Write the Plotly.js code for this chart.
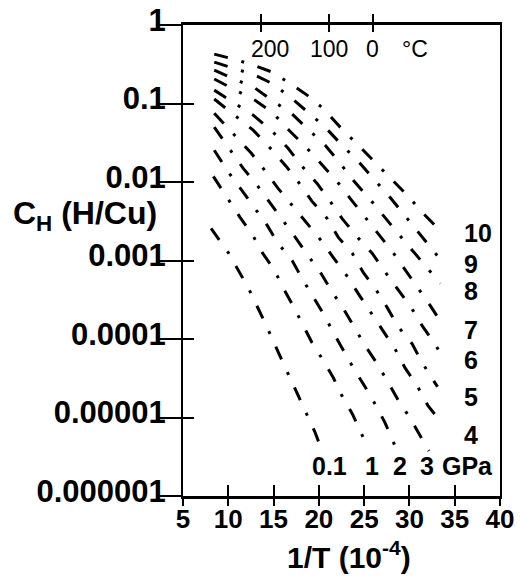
<!DOCTYPE html>
<html><head><meta charset="utf-8">
<script src="https://cdn.plot.ly/plotly-3.0.1.min.js"></script>
<style>html,body{margin:0;padding:0;background:#fff}#chart{width:526px;height:581px}</style>
</head><body><div id="chart"></div>
<script>
// ---- data (x = 1/T in 1e-4 units, y = C_H in H/Cu) ----
const pressureLabels = ['10', '9', '8', '7', '6', '5', '4', '3', '2', '1', '0.1'];

const x_10 = [8.45, 11.0, 12.75, 14.85, 16.6, 18.7, 20.45, 22.35, 24.35, 26.2, 28.1, 29.75, 31.5, 33.4];
const c_10 = [0.426, 0.357, 0.308, 0.251, 0.187, 0.128, 0.087, 0.050, 0.0294, 0.0178, 0.0105, 0.0068, 0.0040, 0.0024];

const x_9 = [8.45, 12.95, 14.95, 16.85, 18.8, 20.7, 22.55, 24.45, 26.1, 27.85, 33.7];
const c_9 = [0.337, 0.230, 0.177, 0.120, 0.0774, 0.0499, 0.0294, 0.0178, 0.0108, 0.0064, 0.00094];

const x_8 = [8.45, 12.95, 14.95, 16.95, 18.8, 20.7, 22.35, 23.8, 25.55, 27.1, 28.75, 33.4];
const c_8 = [0.266, 0.157, 0.107, 0.0753, 0.0470, 0.0294, 0.0173, 0.0105, 0.0062, 0.00375, 0.00221, 0.00051];

const x_7 = [8.45, 12.95, 14.85, 16.7, 18.6, 20.35, 22.0, 23.45, 25.1, 26.55, 28.2, 32.3, 33.6];
const c_7 = [0.205, 0.110, 0.0774, 0.0457, 0.0277, 0.0168, 0.0102, 0.0062, 0.00354, 0.00221, 0.00126, 0.000266, 0.000157];

const x_6 = [8.45, 12.75, 14.85, 16.6, 18.15, 19.8, 21.25, 22.55, 24.2, 25.9, 27.3, 28.65, 30.2, 31.4, 32.8, 33.7];
const c_6 = [0.148, 0.0710, 0.0443, 0.0269, 0.0158, 0.0096, 0.00566, 0.00344, 0.00202, 0.00123, 0.00072, 0.00044, 0.000251, 0.000148, 0.000087, 0.000058];

const x_5 = [8.45, 12.75, 14.75, 16.4, 17.85, 19.25, 20.9, 22.15, 23.7, 24.9, 26.3, 27.55, 28.75, 30.3, 31.4, 33.1];
const c_5 = [0.114, 0.0457, 0.0261, 0.0158, 0.0096, 0.00566, 0.00344, 0.00197, 0.00123, 0.000703, 0.000427, 0.000251, 0.000144, 0.000087, 0.000050, 0.0000246];

const x_4 = [8.45, 12.55, 14.1, 15.5, 17.15, 18.7, 20.25, 21.6, 23.15, 24.35, 25.75, 27.0, 28.4, 29.5, 30.85, 32.05, 33.3];
const c_4 = [0.0753, 0.0232, 0.0137, 0.0083, 0.00489, 0.00296, 0.0018, 0.00109, 0.000625, 0.000379, 0.000217, 0.000136, 0.0000752, 0.0000431, 0.0000254, 0.0000141, 0.0000093];

const x_3 = [8.45, 11.65, 13.2, 14.6, 15.95, 17.4, 18.8, 20.25, 21.45, 22.7, 24.0, 25.1, 26.45, 27.55, 28.75, 30.05, 31.15, 32.15];
const c_3 = [0.0499, 0.0149, 0.00906, 0.0055, 0.00333, 0.00197, 0.00116, 0.000682, 0.000402, 0.000244, 0.000136, 0.0000822, 0.0000484, 0.0000294, 0.0000168, 0.0000099, 0.000006, 0.00000375];

const x_2 = [8.45, 10.1, 11.5, 12.85, 14.3, 15.5, 17.05, 18.15, 19.25, 20.5, 21.6, 22.7, 23.8, 25.1, 26.2, 27.3, 28.1, 28.5];
const c_2 = [0.0254, 0.0129, 0.00782, 0.00474, 0.0028, 0.00165, 0.001, 0.000589, 0.000368, 0.00021, 0.000121, 0.000071, 0.000043, 0.0000246, 0.0000149, 0.0000086, 0.0000053, 0.0000041];

const x_1 = [8.35, 10.0, 11.3, 12.65, 13.75, 15.05, 16.05, 17.15, 18.15, 19.25, 20.5, 21.6, 22.55, 23.7, 24.55, 25.45];
const c_1 = [0.0118, 0.0060, 0.00354, 0.00215, 0.00126, 0.00077, 0.00045, 0.000266, 0.000157, 0.0000897, 0.0000528, 0.0000321, 0.0000189, 0.0000111, 0.0000068, 0.000004];

const x_01 = [8.1, 10.0, 12.2, 14.1, 15.95, 17.85, 19.6, 20.35];
const c_01 = [0.00256, 0.00126, 0.00045, 0.000157, 0.0000528, 0.0000178, 0.0000064, 0.00000375];

const xTickVals = [5, 10, 15, 20, 25, 30, 35, 40];
const yTickVals = [1e-6, 1e-5, 1e-4, 1e-3, 1e-2, 1e-1, 1];
const yTickText = ['0.000001', '0.00001', '0.0001', '0.001', '0.01', '0.1', '1'];
const celsiusTickVals = [13.64, 21.14, 26.0];
const celsiusLabels = ['200', '100', '0', '°C'];

// ---- build ----
const seriesX = [x_10, x_9, x_8, x_7, x_6, x_5, x_4, x_3, x_2, x_1, x_01];
const seriesY = [c_10, c_9, c_8, c_7, c_6, c_5, c_4, c_3, c_2, c_1, c_01];
// every axis shares identical fixed ranges; some curves are attached to the overlay
// axes so that those axes (which carry the second half of the crossing ticks) get drawn
const axisOf = {7: ['x', 'y2'], 8: ['x4', 'y'], 9: ['x3', 'y'], 10: ['x2', 'y']};
const FONT = 'Liberation Sans, Arial, Helvetica, sans-serif';

const traces = seriesX.map((xs, i) => ({
  type: 'scatter', mode: 'lines', x: xs, y: seriesY[i], name: pressureLabels[i] + ' GPa',
  xaxis: (axisOf[i] || ['x'])[0], yaxis: (axisOf[i] || ['x', 'y'])[1],
  line: {color: '#000', width: 3, dash: '14px,14px,3px,14px'},
  hoverinfo: 'skip', showlegend: false
}));

// plot area in pixels: x 183..500, y 25..496
const PL = 183, PR = 500, PT = 25, PB = 496;
const px = v => (v - PL) / (PR - PL);
const py = v => (PB - v) / (PB - PT);

function ann(text, xp, yp, size, bold, xanchor) {
  return {text: text, xref: 'paper', yref: 'paper', x: px(xp), y: py(yp), showarrow: false,
          xanchor: xanchor || 'center', yanchor: 'middle',
          font: {family: FONT, size: size, color: '#000', weight: bold ? 'bold' : 'normal'}};
}

const annotations = [
  ann('C<sub>H</sub> (H/Cu)', 11, 215, 32, true, 'left'),
  ann('1/T (10<sup>-4</sup>)', 349, 555, 30, true),
  ann(celsiusLabels[0], 270, 49, 23, false),
  ann(celsiusLabels[1], 329, 49, 23, false),
  ann(celsiusLabels[2], 372, 49, 23, false),
  ann(celsiusLabels[3], 415, 49, 23, false),
  ann('10', 462, 233, 25, true, 'left'),
  ann('9', 462, 264, 25, true, 'left'),
  ann('8', 462, 291, 25, true, 'left'),
  ann('7', 462, 330, 25, true, 'left'),
  ann('6', 462, 360, 25, true, 'left'),
  ann('5', 462, 397, 25, true, 'left'),
  ann('4', 462, 435, 25, true, 'left'),
  ann('0.1', 329, 466, 25, true),
  ann('1', 372, 466, 25, true),
  ann('2', 400, 466, 25, true),
  ann('3', 427, 466, 25, true),
  ann('GPa', 467, 466, 25, true)
];

const common = {showgrid: false, zeroline: false, tickcolor: '#000'};

const layout = {
  width: 526, height: 581,
  margin: {l: 183, r: 26, t: 25, b: 85},
  paper_bgcolor: '#fff', plot_bgcolor: '#fff',
  showlegend: false,
  xaxis: Object.assign({}, common, {
    range: [5, 40], tickvals: xTickVals,
    ticks: 'outside', ticklen: 7, tickwidth: 2,
    showline: true, linewidth: 3, linecolor: '#000', mirror: true,
    ticklabelstandoff: -9,
    tickfont: {family: FONT, size: 26, color: '#000', weight: 'bold'}
  }),
  xaxis2: Object.assign({}, common, {
    range: [5, 40], overlaying: 'x', side: 'bottom', anchor: 'y', tickvals: xTickVals,
    ticks: 'inside', ticklen: 11, tickwidth: 2, showticklabels: false, showline: false
  }),
  xaxis3: Object.assign({}, common, {
    range: [5, 40], overlaying: 'x', side: 'top', anchor: 'y', tickvals: celsiusTickVals,
    ticks: 'outside', ticklen: 10, tickwidth: 2, showticklabels: false, showline: false
  }),
  xaxis4: Object.assign({}, common, {
    range: [5, 40], overlaying: 'x', side: 'top', anchor: 'y', tickvals: celsiusTickVals,
    ticks: 'inside', ticklen: 7, tickwidth: 2, showticklabels: false, showline: false
  }),
  yaxis: Object.assign({}, common, {
    type: 'log', range: [-6, 0], tickvals: yTickVals, ticktext: yTickText,
    ticks: 'outside', ticklen: 23, tickwidth: 2,
    showline: true, linewidth: 2, linecolor: '#000', mirror: true,
    ticklabelstandoff: -14, ticklabelshift: -5,
    tickfont: {family: FONT, size: 31, color: '#000', weight: 'bold'}
  }),
  yaxis2: Object.assign({}, common, {
    type: 'log', range: [-6, 0], overlaying: 'y', side: 'left', anchor: 'x', tickvals: yTickVals,
    ticks: 'inside', ticklen: 11, tickwidth: 2, showticklabels: false, showline: false
  }),
  annotations: annotations
};

Plotly.newPlot('chart', traces, layout, {staticPlot: true, displayModeBar: false});
</script>
</body></html>
